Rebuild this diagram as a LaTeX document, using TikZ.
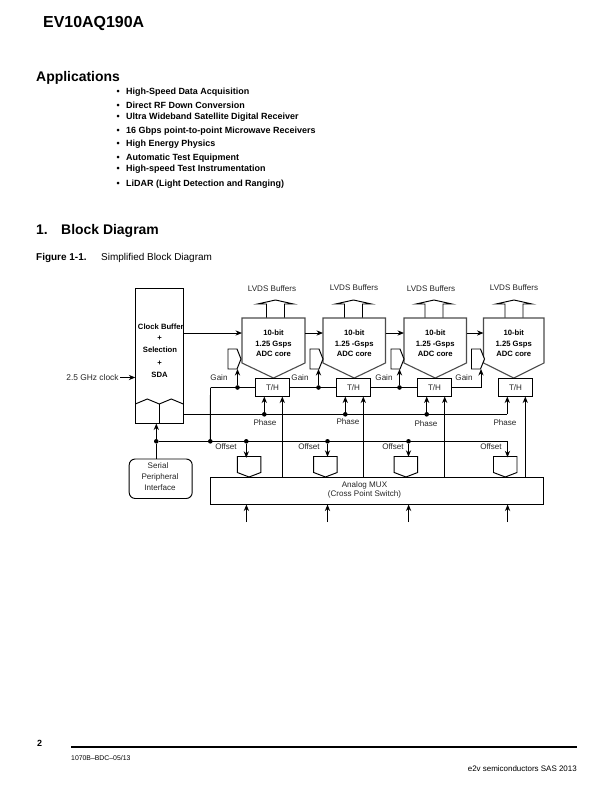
\documentclass[tikz,border=0pt]{standalone}
\usepackage{fontspec}
\setmainfont{Liberation Sans}
\usetikzlibrary{arrows.meta,calc}
\newcommand{\fs}[2]{\fontsize{#1}{#2}\selectfont}
\tikzset{
  x=1bp,y=-1bp,
  wire/.style={line width=0.95bp,draw=black},
  arr/.style={wire,-{Stealth[length=6.5bp,width=5.2bp]}},
  box/.style={draw=black,line width=0.95bp,inner sep=0,outer sep=0,fill=white},
  lbl/.style={inner sep=0,font=\fs{8.1}{9},text=black!85},
  adctxt/.style={inner sep=0,align=center,font=\fs{7.7}{10.6}\bfseries},
  bul/.style={inner sep=0,anchor=base west,font=\fs{9}{10}\bfseries},
  head/.style={inner sep=0,anchor=base west,font=\fs{14}{16}\bfseries},
  dot/.style={circle,fill=black,inner sep=0,minimum size=4.6bp},
}
% \adc{n}{left}{right}{text line 2}
\newcommand{\adc}[4]{%
  \coordinate (adc#1W) at (#2,333);
  \coordinate (adc#1E) at (#3,333);
  \draw[box,draw=black!70,line width=1.1bp] (#2,318) -- (#3,318) -- (#3,363) -- ($(#2,378)!0.5!(#3,378)$) -- (#2,363) -- cycle;
  \node[adctxt] (adct#1) at ($(#2,343.3)!0.5!(#3,343.3)$) {10-bit\\#4\\ADC core};
}
% LVDS arrow centred at x
\newcommand{\lvds}[3]{%
  \draw[wire,fill=white] (#1-9,318) -- (#1-9,304) -- (#1-18,304) -- (#1,300) -- (#1+18,304) -- (#1+9,304) -- (#1+9,318);
  \node[lbl] (lv#2) at #3 {LVDS Buffers};
}
% gain block: x of left, y fixed
\newcommand{\gain}[2]{%
  \draw[wire,fill=white] (#1+9,349) -- (#1,349) -- (#1,369) -- (#1+9,369) -- (#1+13,359) -- cycle;
  \coordinate (gn#2) at (#1+9.5,369);
}
% offset block
\newcommand{\offs}[2]{%
  \draw[wire,fill=white] (#1,456.5) -- (#1+23.5,456.5) -- (#1+23.5,472.5) -- (#1+11.75,477) -- (#1,472.5) -- cycle;
  \coordinate (of#2) at (#1+11.75,456.5);
}
\begin{document}
\begin{tikzpicture}
\useasboundingbox (0,0) rectangle (612,792);
\fill[white] (0,0) rectangle (612,792);
% page text
\node[inner sep=0,anchor=base west,font=\fs{16}{18}\bfseries] (title) at (43,28) {EV10AQ190A};
\node[head] (appl) at (36,81) {Applications};
\foreach \yy/\tt [count=\i] in {94/High-Speed Data Acquisition,108/Direct RF Down Conversion,119.5/Ultra Wideband Satellite Digital Receiver,133/16 Gbps point-to-point Microwave Receivers,146/High Energy Physics,160/Automatic Test Equipment,171.5/High-speed Test Instrumentation,186/LiDAR (Light Detection and Ranging)}{
  \node[bul] (bu\i) at (116.5,\yy) {•};
  \node[bul] (bt\i) at (126,\yy) {\tt};
}
\node[head] (secn) at (36,234) {1.};
\node[head] (sect) at (61,234) {Block Diagram};
\node[inner sep=0,anchor=base west,font=\fs{10}{11}\bfseries] (fign) at (36,260.5) {Figure 1-1.};
\node[inner sep=0,anchor=base west,font=\fs{10}{11}] (figt) at (101,260.5) {Simplified Block Diagram};
% clock box
\node[box,anchor=north west,minimum width=48bp,minimum height=135bp] (clk) at (135.3,288.5) {};
\draw[wire] (135.3,404) -- (147.3,399) -- (159.3,404) -- (171.3,399) -- (183.3,404);
\draw[wire] (159.3,404) -- (159.3,423.5);
\node[adctxt,font=\fs{7.7}{9}\bfseries] (c1) at (160.8,327) {Clock Buffer};
\node[adctxt,font=\fs{7.7}{9}\bfseries] (c2) at (159.5,338) {+};
\node[adctxt,font=\fs{7.7}{9}\bfseries] (c3) at (160,350) {Selection};
\node[adctxt,font=\fs{7.7}{9}\bfseries] (c4) at (159.5,363) {+};
\node[adctxt,font=\fs{7.7}{9}\bfseries] (c5) at (159.5,375) {SDA};
\node[lbl,font=\fs{8.4}{9}] (clktxt) at (92.5,377.5) {2.5 GHz clock};
\draw[arr] (clktxt.east)+(1.5,0) -- (clk.west |- clktxt.east);
% LVDS
\lvds{275.5}{1}{(272,289)}
\lvds{353.5}{2}{(354,288)}
\lvds{434}{3}{(431,289)}
\lvds{514}{4}{(514,288)}
% ADC
\adc{1}{242}{305}{1.25 Gsps}
\adc{2}{323}{385.5}{1.25 -Gsps}
\adc{3}{404}{466.5}{1.25 -Gsps}
\adc{4}{483.5}{544}{1.25 Gsps}
\draw[arr] (clk.east |- adc1W) -- (adc1W);
\draw[arr] (adc1E) -- (adc2W);
\draw[arr] (adc2E) -- (adc3W);
\draw[arr] (adc3E) -- (adc4W);
% gain blocks
\gain{228}{1}
\gain{310}{2}
\gain{391}{3}
\gain{471.5}{4}
% T/H
\foreach \n/\xx in {1/272.5,2/353.5,3/434.5,4/515.5}{
  \node[box,minimum width=34.5bp,minimum height=18bp,font=\fs{8.1}{9},text=black!85] (th\n) at (\xx,387.5) {T/H};
}
% gain line
\coordinate (gl) at (210.5,387.5);
\node[dot] (j1) at (237.5,387.5) {};
\node[dot] (j2) at (318.5,387.5) {};
\node[dot] (j3) at (399.5,387.5) {};
\coordinate (j4) at (481,387.5);
\draw[wire] (gl) -- (th1.west);
\draw[wire] (th1.east) -- (th2.west);
\draw[wire] (th2.east) -- (th3.west);
\draw[wire] (th3.east) -- (j4);
\draw[arr] (j1) -- (j1 |- gn1);
\draw[arr] (j2) -- (j2 |- gn2);
\draw[arr] (j3) -- (j3 |- gn3);
\draw[arr] (j4) -- (j4 |- gn4);
\foreach \n/\xx/\yy in {1/219/378,2/300/378,3/384/378,4/464/378}{\node[lbl] (ga\n) at (\xx,\yy) {Gain};}
% phase line
\node[dot] (p1) at (264.3,414.3) {};
\node[dot] (p2) at (345.3,414.3) {};
\node[dot] (p3) at (426.7,414.3) {};
\coordinate (p4) at (507.3,414.3);
\draw[wire] (clk.east |- p1) -- (p4);
\draw[arr] (p1) -- (p1 |- th1.south);
\draw[arr] (p2) -- (p2 |- th2.south);
\draw[arr] (p3) -- (p3 |- th3.south);
\draw[arr] (p4) -- (p4 |- th4.south);
\foreach \n/\xx/\yy in {1/265/423,2/348/422,3/426/424,4/505/423}{\node[lbl] (ph\n) at (\xx,\yy) {Phase};}
% MUX
\node[box,anchor=north west,minimum width=333.5bp,minimum height=27.5bp] (mux) at (210,477) {};
\node[lbl,align=center,font=\fs{8.1}{9}] (muxt) at (364.5,489.5) {Analog MUX\\(Cross Point Switch)};
% offsets
\offs{237.3}{1}
\offs{313.7}{2}
\offs{394.2}{3}
\offs{493.5}{4}
\node[dot] (o0) at (156.3,441.3) {};
\node[dot] (ob) at (210.3,441.3) {};
\node[dot] (o1) at (246.3,441.3) {};
\node[dot] (o2) at (327.5,441.3) {};
\node[dot] (o3) at (408.5,441.3) {};
\coordinate (o4) at (507.5,441.3);
\draw[wire] (o0) -- (o4);
\draw[wire] (gl) -- (ob);
\draw[arr] (o1) -- ++(0,16.5);
\draw[arr] (o2) -- ++(0,15.5);
\draw[arr] (o3) -- ++(0,15.5);
\draw[arr] (o4) -- ++(0,16);
\foreach \n/\xx in {1/226,2/309,3/393,4/491}{\node[lbl] (ot\n) at (\xx,447) {Offset};}
% MUX to T/H
\foreach \n/\xx in {1/282.3,2/363.3,3/444.7,4/525.3}{
  \coordinate (mx\n) at (\xx,477);
  \draw[arr] (mx\n) -- (mx\n |- th\n.south);
}
% MUX inputs
\foreach \n/\xx in {1/246.4,2/327.5,3/408.6,4/507.6}{
  \coordinate (in\n) at (\xx,522);
  \draw[arr] (in\n) -- (in\n |- mux.south);
}
% SPI
\node[box,rounded corners=6bp,anchor=north west,minimum width=63bp,minimum height=39.5bp] (spi) at (129.2,459) {};
\node[lbl] (s1) at (158,465.5) {Serial};
\node[lbl] (s2) at (160,477) {Peripheral};
\node[lbl] (s3) at (160,488) {Interface};
\draw[wire] (spi.north -| o0) -- (o0);
\draw[arr] (o0) -- (o0 |- clk.south);
% footer
\node[inner sep=0,anchor=base west,font=\fs{9}{10}\bfseries] (pg) at (37,746.5) {2};
\coordinate (ru1) at (71,747); \coordinate (ru2) at (577,747);
\draw[line width=1.6bp] (ru1) -- (ru2);
\node[inner sep=0,anchor=base west,font=\fs{6.9}{8}] (ftl) at (71,760) {1070B–BDC–05/13};
\node[inner sep=0,anchor=base east,font=\fs{8}{10}] (ftr) at (577,771) {e2v semiconductors SAS 2013};
\end{tikzpicture}
\end{document}
